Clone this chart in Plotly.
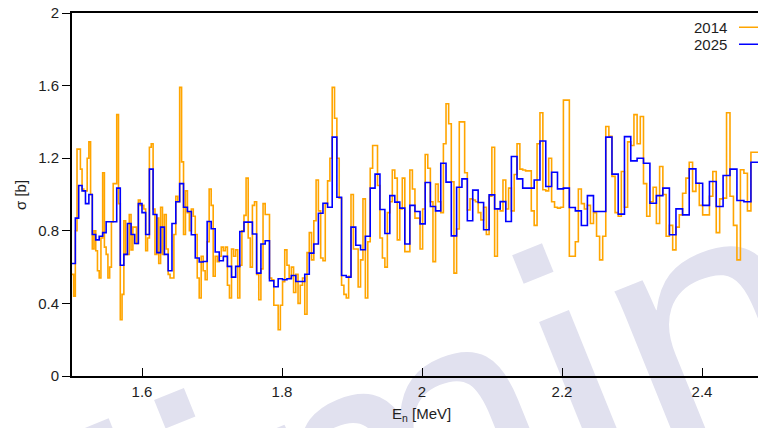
import numpy as np
import plotly.graph_objects as go

# Energy window shown (MeV)
E_LO, E_HI = 1.5, 2.48

# Cross section per time-of-flight bin, 2014 evaluation (fine binning)
sigma_2014 = [
    0.56, 0.44, 0.80, 1.25, 1.25, 1.14, 1.03, 1.02, 1.02, 1.20,
    1.29, 1.00, 0.70, 0.80, 0.69, 0.58, 0.54, 0.76, 1.12, 0.71,
    0.67, 0.54, 0.60, 0.85, 1.06, 1.06, 1.44, 0.95, 0.31, 0.45,
    0.855, 0.67, 0.67, 0.89, 0.695, 0.82, 0.82, 0.73, 0.97, 0.94,
    0.94, 0.92, 0.69, 0.76, 1.26, 1.28, 0.92, 0.67, 0.87, 0.62,
    0.93, 0.67, 0.89, 0.70, 0.56, 0.54, 0.54, 0.78, 0.99, 0.96,
    1.59, 1.18, 0.78, 1.02,
    0.90, 0.80, 0.92, 0.88, 0.78, 0.54, 0.43, 0.66, 0.58, 0.53,
    0.74, 1.03, 0.94, 0.55, 0.66, 0.63, 0.66, 0.71, 0.69, 0.71,
    0.50, 0.43, 0.70, 0.66, 0.695, 0.43, 0.61, 0.80, 0.885, 1.09,
    0.76, 0.60, 0.94, 0.96, 0.56, 0.42, 0.59, 0.95, 0.89, 0.89,
    0.54, 0.53, 0.39, 0.39, 0.255, 0.39, 0.52, 0.695, 0.61, 0.54,
    0.60, 0.46, 0.56, 0.40,
    0.50, 0.54, 0.34, 0.68, 0.79, 0.64, 0.855, 1.08, 0.91, 0.65,
    0.635, 0.95, 1.075, 1.20, 1.59, 1.42, 1.20, 0.98, 0.50, 0.45,
    0.43, 0.55, 1.00, 0.70, 0.70, 0.49, 0.64, 0.976, 0.43, 0.74,
    1.145, 1.27, 1.27, 1.05, 0.76, 0.65, 0.60, 0.90, 0.96, 1.135,
    1.09, 0.75, 0.92, 1.09, 0.685, 0.685, 1.135, 1.03,
    0.87, 0.87, 0.70, 0.92, 1.22, 1.145, 0.96, 0.63, 1.057, 0.96,
    0.90, 1.28, 1.50, 1.39, 1.07, 0.567, 0.81, 1.40, 1.40, 1.12,
    0.915, 0.976, 0.97, 0.96, 0.90, 0.86, 0.93, 0.78, 0.99, 1.26,
    0.66, 0.92, 0.91, 1.08, 0.92, 1.035, 0.91, 1.11, 1.28, 1.14,
    1.135, 1.13,
    1.13, 0.91, 0.83, 1.28, 1.45, 1.026, 1.02, 1.20, 0.96, 0.93,
    0.925, 0.93, 1.52, 1.52, 0.66, 0.66, 0.74, 1.03, 0.95, 0.92,
    0.94, 0.84, 0.90, 0.77, 0.64, 0.77, 1.375, 1.32, 1.10, 0.90,
    0.88, 1.127, 0.93, 1.29, 1.27, 1.44, 1.28, 1.43,
    1.06, 0.88, 0.96, 1.04, 0.84, 1.154, 1.00, 0.77, 0.83, 0.695,
    0.82, 0.888, 1.007, 1.09, 1.178, 1.017, 1.062, 0.94, 0.888, 0.888,
    0.99, 1.127, 0.79, 0.976, 0.98, 1.45, 0.99, 0.83, 0.64, 1.136,
    1.117, 0.91, 1.233, 1.233,
]

# Cross section per time-of-flight bin, 2025 evaluation (coarse binning)
sigma_2025 = [
    0.62, 0.87, 1.05, 1.02, 0.95, 1.00, 0.78, 0.75, 0.77, 0.79,
    0.85, 0.85, 0.85, 1.035, 0.61, 0.67, 0.84, 0.78, 0.73, 0.95,
    0.90, 0.78, 1.14, 0.89, 0.68, 0.82, 0.67, 0.58, 0.84, 0.96,
    1.06, 0.93,
    0.906, 0.778, 0.65, 0.628, 0.631, 0.851, 0.811, 0.683, 0.635, 0.659,
    0.604, 0.545, 0.604, 0.796, 0.848, 0.848, 0.782, 0.567, 0.727, 0.745,
    0.525, 0.492, 0.536, 0.530, 0.536, 0.554, 0.521,
    0.521, 0.561, 0.677, 0.727, 0.897, 0.952, 0.930, 1.316, 0.985, 0.554,
    0.545, 0.820, 0.720, 0.696, 0.770, 1.035, 1.112, 0.917, 0.785, 0.994,
    0.958, 0.925, 0.727, 0.940,
    0.906, 0.838, 1.066, 0.934, 0.910, 1.172, 1.068, 0.772, 1.040, 1.086,
    0.855, 1.024, 0.956, 0.806, 0.998, 0.921, 0.961, 0.851, 1.209, 1.086,
    1.035,
    1.035, 1.080, 1.295, 1.044, 1.123, 1.031, 1.035, 0.928, 0.910, 0.829,
    0.994, 0.906, 0.906, 1.316, 1.112, 0.892, 1.319, 1.185, 1.200,
    1.172, 0.952, 0.994, 1.035, 0.778, 0.921, 0.888, 1.141, 1.062, 0.940,
    1.072, 0.934, 1.105, 1.140, 0.967, 0.960, 1.178,
]

series_names = ["2014", "2025"]
series_colors = ["rgb(255,165,0)", "rgb(0,0,255)"]

x_ticks = [1.6, 1.8, 2.0, 2.2, 2.4]
x_ticktext = ["1.6", "1.8", "2", "2.2", "2.4"]
y_ticks = [0, 0.4, 0.8, 1.2, 1.6, 2.0]
y_ticktext = ["0", "0.4", "0.8", "1.2", "1.6", "2"]


def tof_edges(e_lo, e_hi, nbins):
    """Bin edges of equal flight-time width (t ~ 1/sqrt(E))."""
    u = np.linspace(1.0 / np.sqrt(e_lo), 1.0 / np.sqrt(e_hi), nbins + 1)
    return 1.0 / u ** 2


def histo_xy(values):
    edges = tof_edges(E_LO, E_HI, len(values))
    return list(edges), list(values) + [values[-1]]


FONT = "Liberation Sans, Arial, Helvetica, sans-serif"
TXT = "#1e1e1e"

fig = go.Figure()
for name, vals, col in zip(series_names, [sigma_2014, sigma_2025], series_colors):
    xs, ys = histo_xy(vals)
    fig.add_trace(go.Scatter(
        x=xs, y=ys, mode="lines", name=name,
        line=dict(color=col, width=1.6, shape="hv"),
        hoverinfo="skip",
    ))

fig.update_layout(
    width=758, height=428,
    margin=dict(l=72, r=0, t=13, b=52),
    paper_bgcolor="white", plot_bgcolor="rgba(0,0,0,0)",
    showlegend=False,
    font=dict(family=FONT, size=15, color=TXT),
)

fig.update_xaxes(
    range=[E_LO, E_HI], tickvals=x_ticks, ticktext=x_ticktext,
    ticks="inside", ticklen=8, tickwidth=1.2, tickcolor="black",
    showline=True, linewidth=2, linecolor="black", mirror=True,
    showgrid=False, zeroline=False, ticklabelstandoff=1,
    tickfont=dict(family=FONT, size=15, color=TXT),
)
fig.update_yaxes(
    range=[0, 2], tickvals=y_ticks, ticktext=y_ticktext,
    ticks="outside", ticklen=8, tickwidth=1.2, tickcolor="black",
    showline=True, linewidth=2, linecolor="black",
    showgrid=False, zeroline=False,
    tickfont=dict(family=FONT, size=15, color=TXT),
)

# Axis titles
fig.add_annotation(text="E<sub>n</sub> [MeV]", xref="paper", yref="paper",
                   x=0.5102, y=-0.107, xanchor="center", yanchor="middle",
                   showarrow=False, font=dict(family=FONT, size=15, color=TXT))
fig.add_annotation(text="σ [b]", xref="paper", yref="paper",
                   x=-0.0758, y=0.4986, xanchor="center", yanchor="middle",
                   textangle=-90, showarrow=False,
                   font=dict(family=FONT, size=15, color=TXT))

# Key: label on the left, line sample on the right
key_y = [0.9606, 0.9138]
for name, col, yy in zip(series_names, series_colors, key_y):
    fig.add_annotation(text=name, xref="paper", yref="paper", x=0.9563, y=yy,
                       xanchor="right", yanchor="middle", showarrow=False,
                       borderpad=0,
                       font=dict(family=FONT, size=15, color=TXT))
    fig.add_shape(type="line", xref="paper", yref="paper",
                  x0=0.9723, x1=1.03, y0=yy, y1=yy,
                  line=dict(color=col, width=1.6))

# Background stamp, drawn underneath the data and axes
fig.add_shape(type="rect", xref="paper", yref="paper",
              x0=0.491, x1=0.511, y0=-0.0962, y1=-0.0762,
              line=dict(width=0), fillcolor="rgba(0,0,0,0)", layer="below",
              label=dict(text="Preliminary", textangle=-22,
                         textposition="middle center",
                         font=dict(family=FONT, size=366, color="#e1e1ef")))

fig.write_html("out.html")
